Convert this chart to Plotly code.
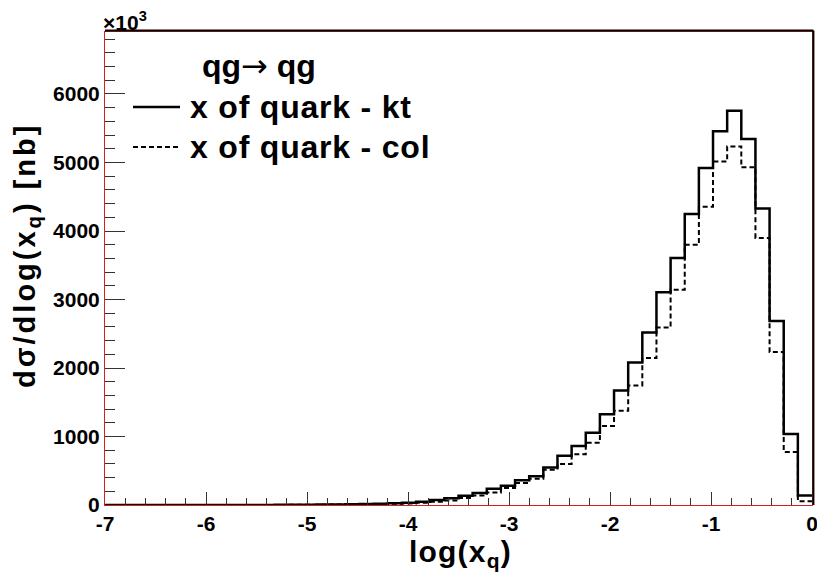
import numpy as np
import plotly.graph_objects as go

# 50 bins from -7 to 0 (width 0.14)
bin_edges = np.round(np.linspace(-7.0, 0.0, 51), 4)

# d sigma / d log(x_q) in units of 10^3 nb
kt_values = [
    0, 0, 0, 0, 0, 0, 0.3, 0.5, 0.7, 0.9,
    1.2, 1.6, 2.2, 3, 4, 5.5, 7.5, 10, 13, 18,
    24, 32, 48, 73, 97, 136, 175, 238, 282, 360,
    418, 549, 720, 860, 1055, 1323, 1673, 2082, 2520, 3104,
    3606, 4248, 4920, 5455, 5756, 5343, 4330, 2686, 1036, 140,
]
col_values = [
    0, 0, 0, 0, 0, 0, 0.2, 0.4, 0.5, 0.7,
    0.9, 1.2, 1.6, 2.2, 3, 4, 5.5, 7.5, 10, 13,
    17, 22, 32, 46, 67, 102, 140, 184, 248, 321,
    384, 515, 598, 740, 910, 1153, 1377, 1746, 2146, 2590,
    3143, 3800, 4355, 5016, 5235, 4929, 3898, 2234, 774, 55,
]

y_ticks = [0, 1000, 2000, 3000, 4000, 5000, 6000]
x_ticks = [-7, -6, -5, -4, -3, -2, -1, 0]

FONT = "Liberation Sans"

def step(vals):
    return list(bin_edges), list(vals) + [vals[-1]]

fig = go.Figure()
xs, ys = step(col_values)
fig.add_trace(go.Scatter(x=xs, y=ys, mode="lines", line_shape="hv",
                         line=dict(color="black", width=2, dash="5px,3px"),
                         name="x of quark - col", showlegend=False, cliponaxis=False))
xs, ys = step(kt_values)
fig.add_trace(go.Scatter(x=xs, y=ys, mode="lines", line_shape="hv",
                         line=dict(color="black", width=2.5),
                         name="x of quark - kt", showlegend=False, cliponaxis=False))

axis_common = dict(showline=True, linecolor="#d62020", linewidth=1, mirror=True,
                   showgrid=False, zeroline=False, ticks="inside", tickcolor="#333",
                   automargin=False, ticklabeloverflow="allow",
                   tickfont=dict(family=FONT, size=21, color="black", weight="bold"))

fig.update_xaxes(range=[-7, 0], tickvals=x_ticks, ticktext=[str(v) for v in x_ticks],
                 ticklen=13, tickwidth=1,
                 minor=dict(dtick=0.2, ticks="inside", ticklen=7, tickcolor="#333"),
                 **axis_common)
fig.update_yaxes(range=[0, 6905], tickvals=y_ticks, ticktext=[str(v) for v in y_ticks],
                 ticklen=20, tickwidth=1,
                 minor=dict(dtick=200, ticks="inside", ticklen=10, tickcolor="#333"),
                 **axis_common)

# black outer frame on top and right
fig.add_shape(type="line", xref="paper", yref="paper", x0=0, x1=1.002, y0=1.003, y1=1.003,
              line=dict(color="black", width=2))
fig.add_shape(type="line", xref="paper", yref="paper", x0=1.002, x1=1.002, y0=0, y1=1.003,
              line=dict(color="black", width=2))

L, T, W, H = 105, 32, 707, 473
def px(xp):
    return (xp - L) / W
def py(yp):
    return (T + H - yp) / H

def spaced(s, sp):
    return "<span style='letter-spacing:%spx'>%s</span>" % (sp, s)

# legend
fig.add_shape(type="line", xref="paper", yref="paper", x0=px(133), x1=px(180), y0=py(107), y1=py(107),
              line=dict(color="black", width=2.5))
fig.add_shape(type="line", xref="paper", yref="paper", x0=px(133), x1=px(180), y0=py(147), y1=py(147),
              line=dict(color="black", width=2, dash="5px,3px"))
fig.add_annotation(xref="paper", yref="paper", x=px(188), y=py(107), text=spaced("x of quark - kt", 0.8),
                   showarrow=False, xanchor="left", yanchor="middle",
                   font=dict(family=FONT, size=32, color="black", weight="bold"))
fig.add_annotation(xref="paper", yref="paper", x=px(188), y=py(147), text=spaced("x of quark - col", 0.8),
                   showarrow=False, xanchor="left", yanchor="middle",
                   font=dict(family=FONT, size=32, color="black", weight="bold"))
fig.add_annotation(xref="paper", yref="paper", x=px(200), y=py(66),
                   text="qg<span style='font-family:DejaVu Sans;font-weight:normal'>→</span> qg",
                   showarrow=False, xanchor="left", yanchor="middle",
                   font=dict(family=FONT, size=32, color="black", weight="bold"))

# exponent label
fig.add_annotation(xref="paper", yref="paper", x=px(101), y=py(21), text="×10<sup>3</sup>",
                   showarrow=False, xanchor="left", yanchor="middle",
                   font=dict(family=FONT, size=21, color="black", weight="bold"))

# axis titles
fig.add_annotation(xref="paper", yref="paper", x=px(460), y=py(553),
                   text=spaced("log(x<sub>q</sub>)", 1.2),
                   showarrow=False, xanchor="center", yanchor="middle",
                   font=dict(family=FONT, size=30, color="black", weight="bold"))
fig.add_annotation(xref="paper", yref="paper", x=px(27), y=py(256),
                   text=spaced("dσ/dlog(x<sub>q</sub>) [nb]", 3),
                   showarrow=False, xanchor="center", yanchor="middle", textangle=-90,
                   font=dict(family=FONT, size=29, color="black", weight="bold"))

fig.update_layout(width=817, height=574, margin=dict(l=L, r=817 - L - W, t=T, b=574 - T - H),
                  paper_bgcolor="white", plot_bgcolor="white", showlegend=False)

fig.write_html("out.html", config={"displayModeBar": False},
               post_script="document.body.style.margin='0';document.body.style.overflow='hidden';")
